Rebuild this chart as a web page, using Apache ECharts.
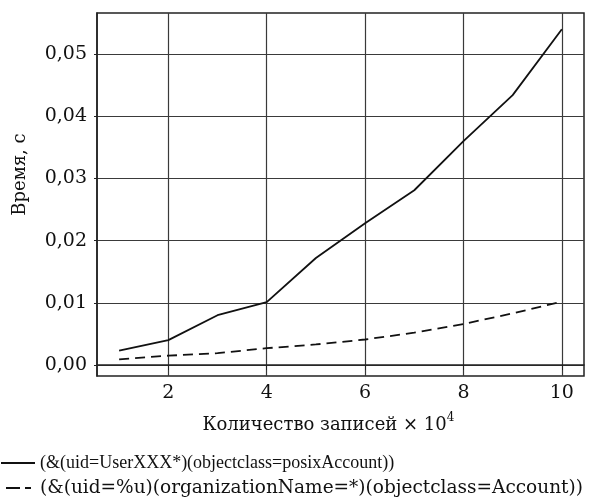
<!DOCTYPE html>
<html>
<head>
<meta charset="utf-8">
<script src="https://cdn.jsdelivr.net/npm/echarts@6/dist/echarts.min.js"></script>
<style>
html, body { margin: 0; padding: 0; background: #fff; }
#chart { width: 594px; height: 499px; }
</style>
</head>
<body>
<div id="chart"></div>
<script>
// Record count (×10^4) and query time in seconds
const records = [1, 2, 3, 4, 5, 6, 7, 8, 9, 10];
const timePosix = [0.0023, 0.0040, 0.0080, 0.0101, 0.0172, 0.0228, 0.0281, 0.0360, 0.0434, 0.0540];
const timeOrg = [0.0009, 0.0015, 0.0019, 0.0027, 0.0033, 0.0041, 0.0052, 0.0066, 0.0083, 0.0102];
const xTicks = [2, 4, 6, 8, 10];
const yTicks = [0, 0.01, 0.02, 0.03, 0.04, 0.05];
const seriesNames = [
  '(&(uid=UserXXX*)(objectclass=posixAccount))',
  '(&(uid=%u)(organizationName=*)(objectclass=Account))'
];

const FONT = 'DejaVu Serif';
const INK = '#111';
const chart = echarts.init(document.getElementById('chart'), null, { renderer: 'canvas' });

chart.setOption({
  animation: false,
  backgroundColor: '#fff',
  textStyle: { fontFamily: FONT, color: INK },
  grid: {
    left: 97, right: 10, top: 13, bottom: 123,
    show: true, borderColor: '#222', borderWidth: 1.5, backgroundColor: 'transparent'
  },
  legend: {
    orient: 'vertical',
    left: 0, top: 453,
    padding: 0,
    itemWidth: 34, itemHeight: 14, itemGap: 5,
    itemStyle: { color: 'transparent', borderColor: 'transparent', borderWidth: 0 },
    textStyle: { fontFamily: FONT, fontSize: 17, lineHeight: 20, color: INK },
    data: [
      { name: seriesNames[0], textStyle: { fontFamily: 'Liberation Serif', fontSize: 18, lineHeight: 20 } },
      { name: seriesNames[1], textStyle: { fontFamily: FONT, fontSize: 18.5, lineHeight: 20 },
        lineStyle: { type: [0, 5, 14, 5, 6, 100] } }
    ]
  },
  xAxis: {
    type: 'value',
    min: 0.55, max: 10.45,
    name: '{a|Количество записей × 10}{s|4}',
    nameLocation: 'middle',
    nameGap: 36,
    nameTextStyle: {
      padding: [0, 24, 0, 0],
      rich: {
        a: { fontFamily: FONT, fontSize: 18, color: INK, lineHeight: 22, verticalAlign: 'bottom' },
        s: { fontFamily: FONT, fontSize: 12, color: INK, lineHeight: 22, verticalAlign: 'top', padding: [0, 0, 8, 0] }
      }
    },
    axisLine: { show: true, lineStyle: { color: '#222', width: 1.5 } },
    axisTick: { show: true, inside: false, length: 5, customValues: xTicks, lineStyle: { color: '#222' } },
    axisLabel: { customValues: xTicks, fontFamily: FONT, fontSize: 19, color: INK, margin: 8 },
    splitLine: { show: true, lineStyle: { color: '#3a3a3a', width: 1.2 } }
  },
  yAxis: {
    type: 'value',
    min: -0.00177, max: 0.0566,
    name: 'Время, с',
    nameLocation: 'middle',
    nameGap: 68,
    nameTextStyle: { fontFamily: FONT, fontSize: 18, color: INK, padding: [0, 0, 0, 40] },
    axisLine: { show: true, lineStyle: { color: '#222', width: 1.5 } },
    axisTick: { show: true, inside: false, length: 3, customValues: yTicks, lineStyle: { color: '#222' } },
    axisLabel: {
      customValues: yTicks, fontFamily: FONT, fontSize: 19, color: INK, margin: 10,
      formatter: v => v.toFixed(2).replace('.', ',')
    },
    splitLine: { show: true, lineStyle: { color: '#3a3a3a', width: 1.2 } }
  },
  series: [
    {
      name: seriesNames[0], type: 'line', symbol: 'none',
      data: records.map((x, i) => [x, timePosix[i]]),
      lineStyle: { color: '#111', width: 1.8, type: 'solid' },
      itemStyle: { color: '#111' }
    },
    {
      name: seriesNames[1], type: 'line', symbol: 'none',
      data: records.map((x, i) => [x, timeOrg[i]]),
      lineStyle: { color: '#111', width: 1.8, type: [10, 6] },
      itemStyle: { color: '#111' }
    }
  ]
});
</script>
</body>
</html>
